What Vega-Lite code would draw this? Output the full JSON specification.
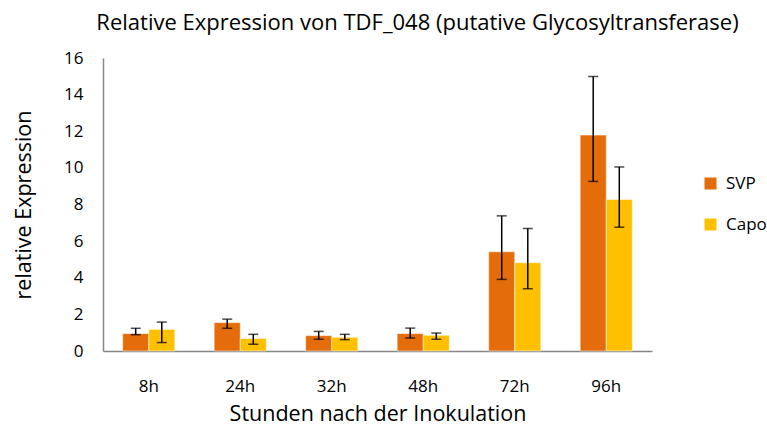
{
  "$schema": "https://vega.github.io/schema/vega-lite/v6.json",
  "autosize": {"type": "none"},
  "padding": {"left": 103, "top": 58, "right": 115, "bottom": 82},
  "width": 549,
  "height": 293,
  "background": "white",
  "config": {"view": {"stroke": null}, "font": "Open Sans"},
  "title": {"text": "Relative Expression von TDF_048 (putative Glycosyltransferase)", "fontSize": 22, "fontWeight": "normal", "color": "#000000", "anchor": "middle", "dx": 40, "offset": 14},
  "data": {"values": [
    {"time": "8h", "series": "SVP", "value": 0.95, "lo": 0.89, "hi": 1.24},
    {"time": "8h", "series": "Capo", "value": 1.18, "lo": 0.46, "hi": 1.58},
    {"time": "24h", "series": "SVP", "value": 1.55, "lo": 1.24, "hi": 1.74},
    {"time": "24h", "series": "Capo", "value": 0.68, "lo": 0.37, "hi": 0.91},
    {"time": "32h", "series": "SVP", "value": 0.84, "lo": 0.64, "hi": 1.07},
    {"time": "32h", "series": "Capo", "value": 0.75, "lo": 0.62, "hi": 0.91},
    {"time": "48h", "series": "SVP", "value": 0.95, "lo": 0.71, "hi": 1.25},
    {"time": "48h", "series": "Capo", "value": 0.86, "lo": 0.64, "hi": 0.98},
    {"time": "72h", "series": "SVP", "value": 5.42, "lo": 3.91, "hi": 7.38},
    {"time": "72h", "series": "Capo", "value": 4.82, "lo": 3.40, "hi": 6.69},
    {"time": "96h", "series": "SVP", "value": 11.79, "lo": 9.26, "hi": 14.99},
    {"time": "96h", "series": "Capo", "value": 8.27, "lo": 6.76, "hi": 10.05}
  ]},
  "encoding": {
    "x": {"field": "time", "type": "nominal", "sort": ["8h", "24h", "32h", "48h", "72h", "96h"],
      "scale": {"paddingInner": 0.43, "paddingOuter": 0.215},
      "axis": {"title": "Stunden nach der Inokulation", "labelAngle": 0, "ticks": false, "domainColor": "#878787", "domainWidth": 1.5, "labelFontSize": 17, "labelColor": "#000000", "labelPadding": 27, "titleFontSize": 21.5, "titleFontWeight": "normal", "titleColor": "#000000", "titlePadding": 9}},
    "xOffset": {"field": "series", "type": "nominal", "sort": ["SVP", "Capo"], "scale": {"paddingInner": 0}}
  },
  "layer": [
    {
      "mark": {"type": "bar", "stroke": "#ffffff", "strokeOpacity": 0.5, "strokeWidth": 1},
      "encoding": {
        "y": {"field": "value", "type": "quantitative", "scale": {"domain": [0, 16]},
          "axis": {"title": "relative Expression", "values": [0, 2, 4, 6, 8, 10, 12, 14, 16], "labelOverlap": false, "labelFlush": false, "grid": false, "ticks": false, "domainColor": "#878787", "domainWidth": 1.5, "labelFontSize": 17, "labelColor": "#000000", "labelPadding": 20, "titleFontSize": 21.5, "titleFontWeight": "normal", "titleColor": "#000000", "titlePadding": 28}},
        "color": {"field": "series", "type": "nominal", "sort": ["SVP", "Capo"],
          "scale": {"domain": ["SVP", "Capo"], "range": ["#E46C0A", "#FFC000"]},
          "legend": {"title": null, "orient": "none", "legendX": 599, "legendY": 117, "symbolType": "square", "symbolSize": 144, "symbolStrokeWidth": 0, "labelFontSize": 17, "labelColor": "#000000", "rowPadding": 23, "labelOffset": 7}}
      }
    },
    {
      "mark": {"type": "rule", "color": "#000000", "strokeWidth": 1.5},
      "encoding": {"y": {"field": "lo", "type": "quantitative",
          "axis": {"title": "relative Expression", "values": [0, 2, 4, 6, 8, 10, 12, 14, 16], "labelOverlap": false, "labelFlush": false, "grid": false, "ticks": false, "domainColor": "#878787", "domainWidth": 1.5, "labelFontSize": 17, "labelColor": "#000000", "labelPadding": 20, "titleFontSize": 21.5, "titleFontWeight": "normal", "titleColor": "#000000", "titlePadding": 28}},
        "y2": {"field": "hi"}}
    },
    {
      "mark": {"type": "tick", "color": "#000000", "thickness": 1.5, "size": 10},
      "encoding": {"y": {"field": "lo", "type": "quantitative",
          "axis": {"title": "relative Expression", "values": [0, 2, 4, 6, 8, 10, 12, 14, 16], "labelOverlap": false, "labelFlush": false, "grid": false, "ticks": false, "domainColor": "#878787", "domainWidth": 1.5, "labelFontSize": 17, "labelColor": "#000000", "labelPadding": 20, "titleFontSize": 21.5, "titleFontWeight": "normal", "titleColor": "#000000", "titlePadding": 28}}}
    },
    {
      "mark": {"type": "tick", "color": "#000000", "thickness": 1.5, "size": 10},
      "encoding": {"y": {"field": "hi", "type": "quantitative",
          "axis": {"title": "relative Expression", "values": [0, 2, 4, 6, 8, 10, 12, 14, 16], "labelOverlap": false, "labelFlush": false, "grid": false, "ticks": false, "domainColor": "#878787", "domainWidth": 1.5, "labelFontSize": 17, "labelColor": "#000000", "labelPadding": 20, "titleFontSize": 21.5, "titleFontWeight": "normal", "titleColor": "#000000", "titlePadding": 28}}}
    }
  ]
}
